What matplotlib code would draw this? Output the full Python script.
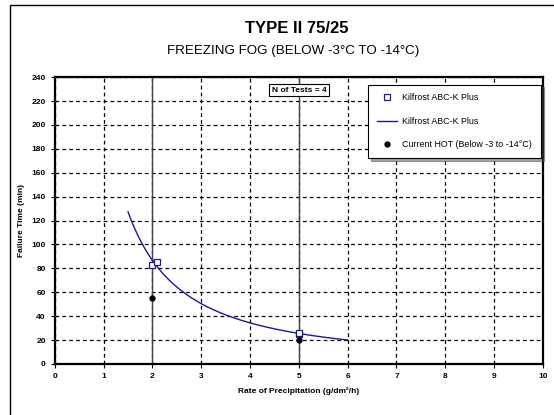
import numpy as np
import matplotlib
matplotlib.use("Agg")
import matplotlib.pyplot as plt
from matplotlib.patches import Rectangle

plt.rcParams["font.family"] = ["Liberation Sans", "DejaVu Sans"]

# ── data ──────────────────────────────────────────────────────────────────────
test_rate = [2.0, 2.1, 5.0, 5.0]          # Kilfrost ABC-K Plus tests
test_time = [83, 85, 25, 26]
hot_rate = [2.0, 5.0]                      # current HOT (below -3 to -14 °C)
hot_time = [55, 20]
vline_x = [2, 5]
curve_range = [1.5, 6.0]

# power-law trend through the test points (as the spreadsheet trendline)
b, log_a = np.polyfit(np.log(test_rate), np.log(test_time), 1)
xs = np.linspace(curve_range[0], curve_range[1], 200)
ys = np.exp(log_a) * xs ** b

fig = plt.figure(figsize=(5.54, 4.15), dpi=100)
ax = fig.add_axes([0.099, 0.123, 0.881, 0.691])

# outer frame of the sheet
fig.patches.append(Rectangle((10 / 554, -0.1), 1.2, 1.1 - 5 / 415,
                             transform=fig.transFigure, fill=False,
                             edgecolor="black", linewidth=1.0))

ax.set_xlim(0, 10)
ax.set_ylim(0, 240)
ax.set_xticks(range(0, 11))
ax.set_yticks(range(0, 241, 20))
ax.grid(True, color="black", linestyle=(0, (3, 2.5)), linewidth=0.9)
ax.tick_params(axis="both", labelsize=6, length=3, width=0.8)
for lab in ax.get_xticklabels() + ax.get_yticklabels():
    lab.set_fontweight("bold")
for s in ax.spines.values():
    s.set_linewidth(1.6)

for x in vline_x:
    ax.axvline(x, color="#444444", linewidth=1.0, zorder=2)

ax.plot(test_rate, test_time, linestyle="none", marker="s", markersize=5,
        markerfacecolor="white", markeredgecolor="#1a1aa0", markeredgewidth=0.9,
        label="Kilfrost ABC-K Plus", zorder=4)
ax.plot(xs, ys, color="#1a1a90", linewidth=1.0, label="Kilfrost ABC-K Plus", zorder=3)
ax.plot(hot_rate, hot_time, linestyle="none", marker="o", markersize=3.5,
        color="black", label="Current HOT (Below -3 to -14°C)", zorder=4)

leg = ax.legend(loc="upper right", bbox_to_anchor=(1.005, 0.99), fontsize=6.4,
                fancybox=False, shadow=True, framealpha=1, edgecolor="black",
                labelspacing=1.6, handlelength=2.2, borderpad=1.0, handletextpad=0.6)
leg.get_frame().set_linewidth(0.8)

ax.text(5.0, 229, "N of Tests = 4", fontsize=6, fontweight="bold", ha="center",
        va="center", bbox=dict(facecolor="white", edgecolor="black",
                               linewidth=0.8, boxstyle="square,pad=0.3"), zorder=5)

ax.set_xlabel("Rate of Precipitation (g/dm²/h)", fontsize=6, fontweight="bold",
              labelpad=5)
ax.set_ylabel("Failure Time (min)", fontsize=6, fontweight="bold", labelpad=5)

fig.text(0.535, 0.932, "TYPE II 75/25", ha="center", va="center",
         fontsize=12, fontweight="bold")
fig.text(0.53, 0.878, "FREEZING FOG (BELOW -3°C TO -14°C)", ha="center",
         va="center", fontsize=9.6)

fig.savefig("out.png", dpi=100)
